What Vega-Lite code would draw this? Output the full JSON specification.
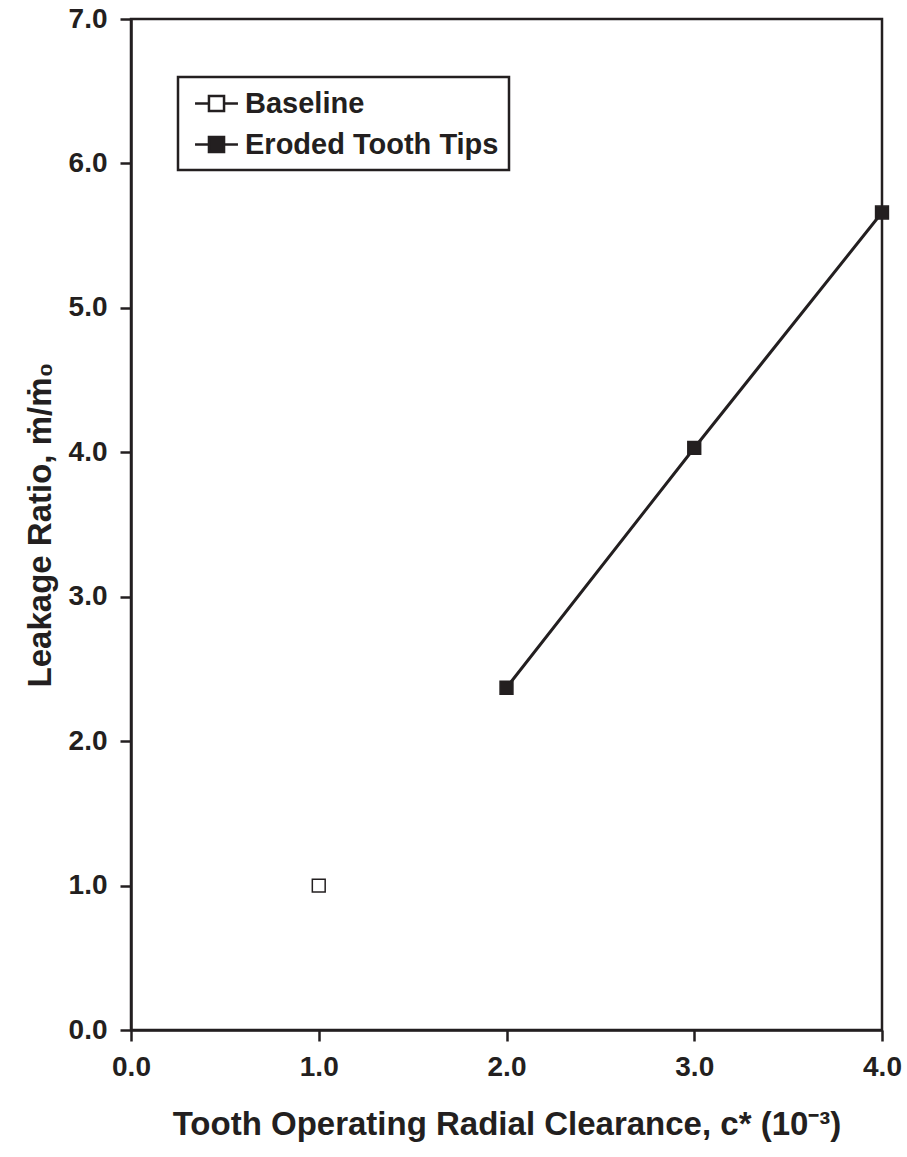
{
  "$schema": "https://vega.github.io/schema/vega-lite/v6.json",
  "width": 751,
  "height": 1011,
  "autosize": "none",
  "padding": {"left": 131, "top": 19, "right": 25, "bottom": 127},
  "background": "white",
  "config": {
    "font": "Liberation Sans",
    "view": {"stroke": "#231f20", "strokeWidth": 2.5},
    "axis": {
      "grid": false,
      "domainColor": "#231f20",
      "domainWidth": 2.5,
      "tickColor": "#231f20",
      "tickWidth": 2.5,
      "tickSize": 11,
      "labelFont": "Liberation Sans",
      "labelFontWeight": "bold",
      "labelFontSize": 28,
      "labelColor": "#231f20",
      "labelFlush": false,
      "titleFont": "Liberation Sans",
      "titleFontWeight": "bold",
      "titleFontSize": 33,
      "titleColor": "#231f20"
    }
  },
  "data": {
    "values": [
      {"series": "Baseline", "x": 1.0, "y": 1.0},
      {"series": "Eroded Tooth Tips", "x": 2.0, "y": 2.37},
      {"series": "Eroded Tooth Tips", "x": 3.0, "y": 4.03},
      {"series": "Eroded Tooth Tips", "x": 4.0, "y": 5.66}
    ]
  },
  "layer": [
    {
      "transform": [{"filter": "datum.series === 'Eroded Tooth Tips'"}],
      "mark": {"type": "line", "color": "#231f20", "strokeWidth": 3},
      "encoding": {
        "x": {"field": "x", "type": "quantitative"},
        "y": {"field": "y", "type": "quantitative"}
      }
    },
    {
      "mark": {"type": "point", "shape": "square", "filled": true, "size": 165, "stroke": "#231f20", "strokeWidth": 1.5, "opacity": 1},
      "encoding": {
        "x": {
          "field": "x", "type": "quantitative",
          "scale": {"domain": [0, 4], "nice": false, "zero": false},
          "axis": {"values": [0, 1, 2, 3, 4], "format": ".1f", "labelPadding": 12, "title": "Tooth Operating Radial Clearance, c* (10⁻³)", "titlePadding": 27}
        },
        "y": {
          "field": "y", "type": "quantitative",
          "scale": {"domain": [0, 7], "nice": false},
          "axis": {"values": [0, 1, 2, 3, 4, 5, 6, 7], "format": ".1f", "labelPadding": 13, "title": "Leakage Ratio, ṁ/ṁ₀", "titlePadding": 11}
        },
        "fill": {
          "field": "series", "type": "nominal",
          "scale": {"domain": ["Baseline", "Eroded Tooth Tips"], "range": ["white", "#231f20"]},
          "legend": {
            "title": null,
            "orient": "none",
            "legendX": 47,
            "legendY": 58,
            "strokeColor": "#231f20",
            "fillColor": "white",
            "padding": 10.5,
            "rowPadding": 10,
            "symbolOffset": 12,
            "symbolType": "M-1.48,0L-0.52,0M0.52,0L1.48,0M-0.52,-0.52L0.52,-0.52L0.52,0.52L-0.52,0.52Z",
            "symbolSize": 841,
            "symbolStrokeColor": "#231f20",
            "symbolStrokeWidth": 2.5,
            "symbolOpacity": 1,
            "labelFont": "Liberation Sans",
            "labelFontWeight": "bold",
            "labelFontSize": 29,
            "labelColor": "#231f20",
            "labelOffset": 12.5,
            "labelLimit": 500,
            "encode": {"legend": {"update": {"strokeWidth": {"value": 2.5}}}}
          }
        }
      }
    }
  ]
}
